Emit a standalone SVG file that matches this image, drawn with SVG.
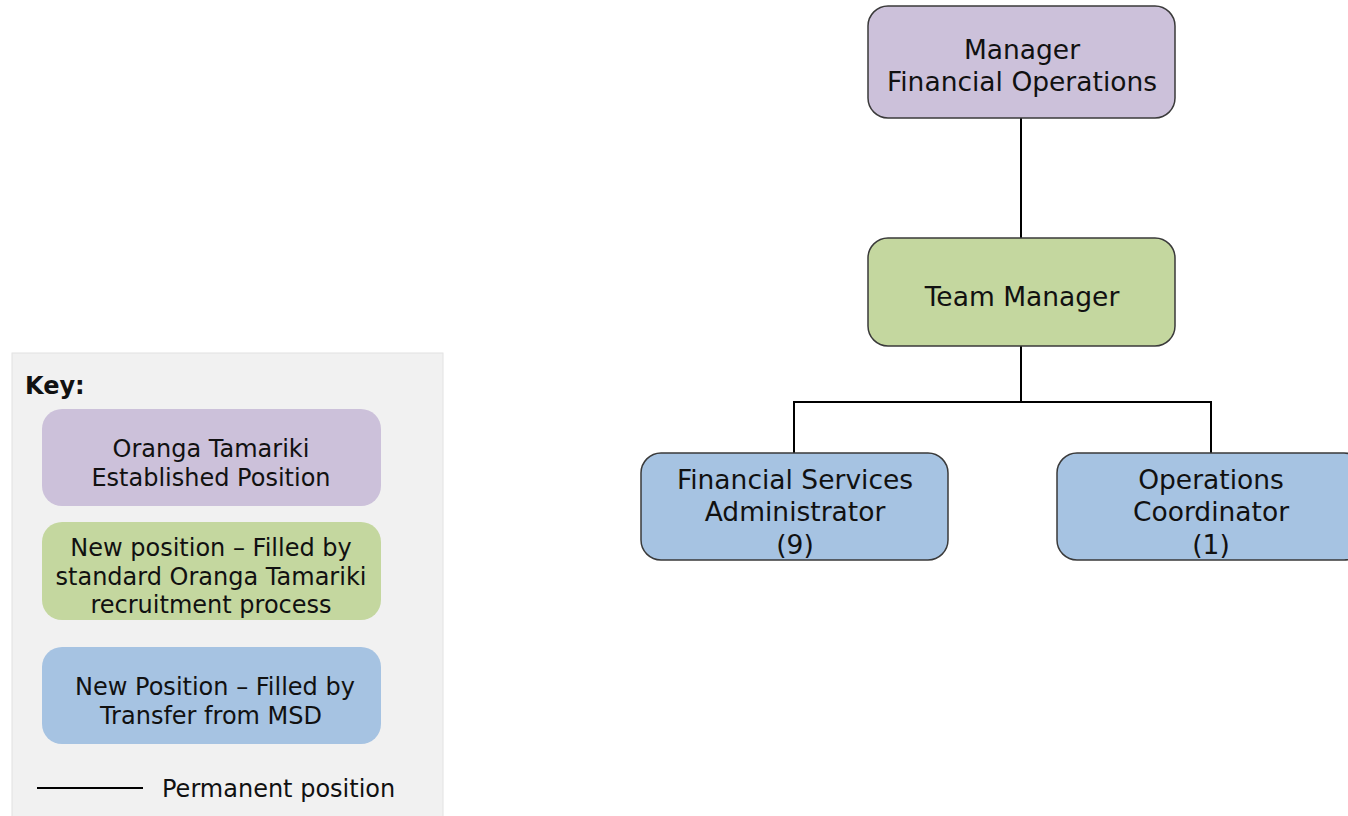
<svg xmlns="http://www.w3.org/2000/svg" width="1348" height="816" viewBox="0 0 1348 816">
<style>
text{font-family:"DejaVu Sans",Verdana,sans-serif;fill:#111;text-anchor:middle}
.n{font-size:26.5px}
.k{font-size:24px}
.node{stroke:#3a3a3a;stroke-width:1.5}
.p{fill:#ccc1da}.g{fill:#c4d79f}.b{fill:#a6c3e2}
.c{stroke:#000;stroke-width:2;fill:none}
</style>
<rect width="1348" height="816" fill="#fff"/>
<g id="key">
<rect x="12" y="353" width="431" height="470" fill="#f1f1f1" stroke="#e2e2e2" stroke-width="1"/>
<text x="25" y="394" style="text-anchor:start;font-weight:bold;font-size:24px">Key:</text>
<rect x="42" y="409" width="339" height="97" rx="20" class="p"/>
<text class="k" x="211" y="457">Oranga Tamariki</text>
<text class="k" x="211" y="486">Established Position</text>
<rect x="42" y="522" width="339" height="98" rx="20" class="g"/>
<text class="k" x="211" y="556">New position – Filled by</text>
<text class="k" x="211" y="585">standard Oranga Tamariki</text>
<text class="k" x="211" y="613">recruitment process</text>
<rect x="42" y="647" width="339" height="97" rx="20" class="b"/>
<text class="k" x="215" y="695">New Position – Filled by</text>
<text class="k" x="211" y="724">Transfer from MSD</text>
<line x1="37" y1="788" x2="143" y2="788" class="c"/>
<text class="k" x="162" y="797" style="text-anchor:start">Permanent position</text>
</g>
<g id="connectors">
<line x1="1021" y1="118" x2="1021" y2="238" class="c"/>
<polyline points="1021,346 1021,402" class="c"/>
<polyline points="794,453 794,402 1211,402 1211,453" class="c"/>
</g>
<g id="manager-financial-operations">
<rect x="868" y="6" width="307" height="112" rx="20" class="node p"/>
<text class="n" x="1022" y="59">Manager</text>
<text class="n" x="1022" y="91">Financial Operations</text>
</g>
<g id="team-manager">
<rect x="868" y="238" width="307" height="108" rx="20" class="node g"/>
<text class="n" x="1022" y="306">Team Manager</text>
</g>
<g id="financial-services-administrator">
<rect x="641" y="453" width="307" height="107" rx="20" class="node b"/>
<text class="n" x="795" y="489">Financial Services</text>
<text class="n" x="795" y="521">Administrator</text>
<text class="n" x="795" y="554">(9)</text>
</g>
<g id="operations-coordinator">
<rect x="1057" y="453" width="307" height="107" rx="20" class="node b"/>
<text class="n" x="1211" y="489">Operations</text>
<text class="n" x="1211" y="521">Coordinator</text>
<text class="n" x="1211" y="554">(1)</text>
</g>
</svg>
